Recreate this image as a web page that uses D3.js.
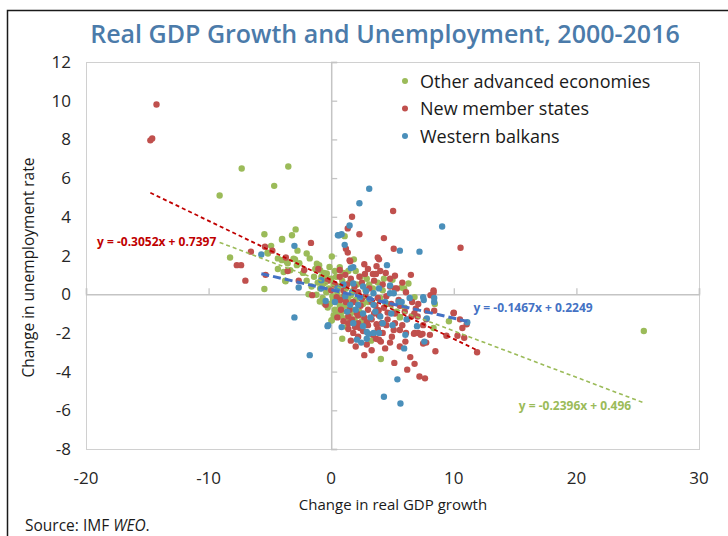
<!DOCTYPE html>
<html>
<head>
<meta charset="utf-8">
<script src="https://cdn.jsdelivr.net/npm/d3@7"></script>
<style>
  html, body { margin: 0; padding: 0; background: #fff; }
  svg { display: block; font-family: "Open Sans", "Noto Sans", sans-serif; }
</style>
</head>
<body>
<svg id="chart" width="728" height="536"></svg>
<script>
// Change in real GDP growth (x) vs change in unemployment rate (y), 2000-2016
const otherAdvanced = [
  [-9.1,5.1],[-7.3,6.5],[-3.5,6.6],[-4.65,5.6],[-5.45,3.1],[-2.9,3.35],[-3.2,3.05],[-4.0,2.85],
  [-4.9,2.5],[-2.75,2.25],[-5.2,2.15],[-8.25,1.9],[-4.35,1.85],[-2.95,1.8],[-1.75,1.85],[0.05,1.95],
  [-4.35,1.3],[-3.55,1.6],[-3.75,0.7],[-5.45,0.27],[25.5,-1.9],[4.05,-3.35],[0.9,-2.3],[3.25,-2.4],
  [9.6,-1.4],[8.35,-1.75],[8.45,-0.5],[6.8,-0.15],[6.3,0.55],[5.0,0.75],[5.75,0.35],[5.95,0.3],
  [4.3,0.8],[2.9,0.8],[1.85,1.8],[1.1,3.0],[-0.98,1.5],[-0.14,1.41],[-1.17,1.58],[-0.9,1.24],
  [-0.36,1.07],[-0.09,0.72],[-0.63,0.55],[-1.2,-0.03],[-0.74,0.45],[-0.36,0.81],[-0.28,-0.69],
  [0.37,-0.96],[0.05,-1.34],[0.18,-0.22],[-0.93,-0.38],[-1.85,0.0],[-4.02,1.76],[-3.61,1.67],
  [-3.07,1.84],[-2.8,1.5],[-3.34,1.24],[-3.88,1.15],[-4.02,2.82],[-5.16,2.1],[-3.72,0.67],
  [0.81,-1.15],[1.27,-1.69],[-0.55,-0.48],[0.15,-0.3],[0.7,-0.2],
  [-0.8,0.9],[-0.5,0.6],[-0.2,0.3],[0.2,0.5],[0.4,0.9],[0.6,0.4],[0.9,0.7],[1.2,0.3],[1.5,0.6],
  [1.8,0.2],[2.1,0.5],[2.4,0.9],[0.1,-0.1],[0.4,-0.4],[0.8,-0.2],[1.1,-0.6],[1.4,-0.3],[1.7,-0.8],
  [2.0,-0.3],[2.3,-0.9],[2.6,-0.5],[0.3,-0.8],[0.6,-1.1],[0.9,-0.9],[1.3,-1.2],[-0.4,0.1],[-0.7,-0.2],
  [0.0,0.8],[0.3,1.2],[0.7,1.4],[1.0,1.1],[1.4,1.2],[2.0,1.2],[-0.6,1.1],[-1.1,0.6],[-1.4,0.9],
  [-1.6,0.4],[-0.9,0.3],[-1.3,1.3],[-2.0,0.7],[-2.3,1.1],[0.5,0.1],[1.0,-0.1],[1.6,-0.05],[2.8,0.2],
  [3.1,0.5],[3.4,0.3],[3.0,-0.4],[3.8,0.6],[4.2,0.2],[0.2,-1.1],[1.9,-1.3],[2.5,-1.4],[-0.1,-0.5],
  [0.7,-0.6],[1.6,-1.0],[4.0,-0.2],[4.6,-0.5],[5.3,-0.9],[5.6,-1.2],[6.0,-0.7],[-2.6,1.6],[-2.0,2.1],
  [5.62,-1.17],[0.02,-1.36]
];
const newMemberStates = [
  [-14.25,9.8],[-14.75,7.95],[-14.6,8.05],[-6.55,2.2],[-5.4,2.45],[-4.8,2.25],[-3.7,1.9],[-3.55,1.2],
  [-1.65,2.65],[-7.7,1.5],[-7.35,1.5],[-7.0,0.7],[-5.35,1.0],[-2.65,0.7],[-2.2,1.25],[-1.05,1.3],
  [-1.55,-0.05],[-0.45,-0.55],[1.7,4.0],[2.3,3.1],[1.35,3.4],[1.2,2.35],[1.35,2.15],[4.3,2.9],
  [3.8,1.9],[3.9,1.8],[3.7,1.45],[2.7,1.55],[1.55,1.7],[1.5,1.75],[0.7,1.25],[2.75,1.05],[3.4,1.05],
  [3.65,1.05],[5.05,4.3],[10.55,2.4],[5.1,2.35],[6.5,1.0],[5.2,0.95],[4.45,1.1],[8.35,0.2],[8.35,0.1],
  [8.1,-0.05],[5.35,0.3],[5.2,0.3],[4.8,0.4],[0.7,0.9],[1.15,1.0],[2.7,-3.15],[5.15,-3.55],[6.2,-3.9],
  [6.45,-3.25],[6.8,-3.6],[7.2,-4.25],[7.65,-4.35],[8.5,-2.95],[7.5,-2.55],[7.75,-2.5],[5.6,-2.7],
  [6.05,-2.45],[6.8,-2.0],[7.1,-2.0],[7.3,-2.1],[9.4,-2.15],[10.3,-2.15],[10.85,-2.25],[11.9,-3.0],
  [10.7,-1.75],[11.05,-1.55],[10.0,-0.95],[10.5,-1.3],[7.75,-1.3],[8.4,-0.85],[8.25,-0.05],[6.9,-0.75],
  [6.55,-1.15],[7.8,-0.85],[7.05,-1.15],[7.45,-2.05],[8.05,-2.1],[6.75,-2.05],[6.1,-2.0],[5.6,-1.85],
  [5.1,-1.85],[4.95,-2.2],[3.65,-2.3],[4.05,-2.45],[2.2,-2.2],[1.4,-1.5],[3.7,-1.55],[2.35,-1.75],
  [1.95,-1.7],[1.4,-1.15],[4.15,-1.5],[3.85,-0.85],[0.45,-0.15],[0.75,-0.3],[1.1,-0.05],
  [1.0,0.2],[1.3,0.5],[1.6,0.8],[1.9,0.4],[2.2,0.1],[2.5,0.6],[2.8,-0.1],[3.1,0.3],[3.5,0.7],
  [3.8,-0.2],[4.2,0.5],[4.5,-0.1],[1.2,-0.4],[1.5,-0.8],[1.8,-0.4],[2.1,-1.0],[2.4,-0.6],[2.7,-1.2],
  [3.0,-0.8],[3.3,-1.3],[3.6,-0.6],[3.9,-1.1],[4.3,-0.7],[4.6,-1.3],[4.9,-0.5],[5.2,-1.0],[5.5,-0.3],
  [1.0,-1.4],[1.4,-1.8],[1.8,-2.0],[2.2,-1.5],[2.6,-1.9],[3.0,-1.6],[3.4,-2.1],[3.8,-1.8],[4.2,-2.0],
  [4.5,-1.6],[4.8,-2.5],[5.2,-1.5],[5.8,-1.6],[6.2,-1.3],[6.0,-0.9],[2.9,-2.6],[3.3,-2.9],[2.0,-2.7],
  [1.6,-2.4],[4.4,-2.8],[0.8,-0.8],[0.5,-1.2],[2.3,0.9],[3.0,1.3],[4.0,1.2],[5.8,0.6],[6.1,0.1],
  [6.6,-0.4],[7.1,-0.5],[5.6,-0.6],[4.8,0.8],[0.3,0.5],[0.0,0.2],[-0.3,0.7],[3.85,-0.83],[4.13,-1.51],
  [2.2,-1.1],[2.9,-1.45],[3.5,-1.0],[1.7,-1.3],[4.6,-0.95],[2.5,-0.25],[3.3,-0.4],[3.9,-2.35],
  [9.98,-0.98],[6.78,-1.0],[7.5,-1.6]
];
const westernBalkans = [
  [-5.7,2.05],[-3.0,2.5],[-2.65,0.35],[0.55,3.05],[-3.0,-1.2],[-1.75,-3.15],[-0.3,-1.65],[-0.45,-0.35],
  [3.1,5.45],[2.3,4.7],[1.5,3.55],[0.65,3.05],[0.85,3.1],[1.1,2.55],[9.05,3.5],[5.6,2.25],[7.2,2.2],
  [4.55,1.5],[1.8,1.4],[1.6,1.35],[4.8,0.45],[-0.25,-1.6],[0.85,-1.7],[2.1,-2.35],[2.45,-2.5],
  [2.9,-2.3],[2.6,-1.65],[3.05,-2.05],[3.45,-2.0],[3.9,-2.0],[1.8,-1.5],[4.3,-5.3],[5.4,-4.4],
  [5.65,-5.65],[5.95,-2.8],[7.6,-2.45],[6.05,-2.1],[7.0,-1.65],[7.8,-1.25],[8.4,-0.4],[7.55,-0.3],
  [8.4,-0.2],[2.2,-0.55],[2.35,-0.15],[3.15,-0.25],[2.85,0.15],[3.45,0.05],[1.55,-0.55],[1.7,0.1],
  [1.15,-0.1],[4.8,0.05],[5.1,0.05],[5.5,-0.4],[5.75,-0.4],[3.45,-0.55],[2.6,0.4],[1.8,0.55],
  [6.15,-1.3],[7.5,-0.15],[4.0,-1.15],[2.9,-1.95],[-0.82,0.29],[-0.81,0.72],[11.1,-1.45],
  [0.5,0.3],[1.0,0.5],[2.0,-0.8],[2.6,-1.0],[3.2,-1.2],[3.6,-0.9],[4.4,-0.4],[4.9,-1.0],[1.3,-0.9],
  [0.3,-0.4],[3.9,0.3],[4.2,-1.5],[6.4,-0.2],[5.0,-1.6]
];

// Linear fits: [slope, intercept] per series
const trendOther = [-0.2396, 0.496];
const trendNew = [-0.3052, 0.7397];
const trendBalkans = [-0.1467, 0.2249];

const seriesNames = ["Other advanced economies", "New member states", "Western balkans"];
const xTicks = [-20, -10, 0, 10, 20, 30];
const yTicks = [-8, -6, -4, -2, 0, 2, 4, 6, 8, 10, 12];

const svg = d3.select("#chart");
const W = 728, H = 536;
const plot = { left: 86, right: 699, top: 62, bottom: 449 };

const x = d3.scaleLinear().domain([-20, 30]).range([plot.left, plot.right]);
const y = d3.scaleLinear().domain([-8, 12]).range([plot.bottom, plot.top]);

const colors = { other: "#9bbb59", nms: "#c0504d", wb: "#4a8fba" };
const trendColors = { other: "#9bbb59", nms: "#c00000", wb: "#4472c4" };

// outer frame (left and top edges)
svg.append("path")
  .attr("d", `M7.5,${H} V10.5 H${W}`)
  .attr("fill", "none").attr("stroke", "#1a1a1a").attr("stroke-width", 1.5);

// title
svg.append("text")
  .attr("x", 385).attr("y", 43)
  .attr("text-anchor", "middle")
  .attr("font-size", 25).attr("font-weight", 600)
  .attr("fill", "#4b7baa")
  .text("Real GDP Growth and Unemployment, 2000-2016");

// plot area border
svg.append("rect")
  .attr("x", plot.left + 0.5).attr("y", plot.top + 0.5)
  .attr("width", plot.right - plot.left).attr("height", plot.bottom - plot.top)
  .attr("fill", "none").attr("stroke", "#d0d0d0").attr("stroke-width", 1);

// axes crossing at zero
const axisColor = "#c4c4c4";
const yAxis = d3.axisRight(y).tickValues(yTicks).tickSize(6).tickFormat("");
const gy = svg.append("g").attr("transform", `translate(${x(0)},0)`).call(yAxis);
const xAxis = d3.axisTop(x).tickValues(xTicks.filter(v => v !== 0)).tickSize(6).tickFormat("");
const gx = svg.append("g").attr("transform", `translate(0,${y(0)})`).call(xAxis);
[gx, gy].forEach(g => {
  g.select(".domain").attr("stroke", axisColor).attr("stroke-width", 1.5);
  g.selectAll(".tick line").attr("stroke", axisColor).attr("stroke-width", 1.3);
});

// tick labels along the plot edges
svg.append("g").selectAll("text").data(yTicks).join("text")
  .attr("x", 71).attr("y", d => y(d) + 6)
  .attr("text-anchor", "end")
  .attr("font-size", 17).attr("fill", "#262626")
  .text(d => d);
svg.append("g").selectAll("text").data(xTicks).join("text")
  .attr("x", d => x(d)).attr("y", 484)
  .attr("text-anchor", "middle")
  .attr("font-size", 17).attr("fill", "#262626")
  .text(d => d);

// axis titles
svg.append("text")
  .attr("transform", `translate(34,${(plot.top + plot.bottom) / 2 + 12}) rotate(-90)`)
  .attr("text-anchor", "middle")
  .attr("font-size", 15.5).attr("fill", "#1a1a1a")
  .text("Change in unemployment rate");
svg.append("text")
  .attr("x", 393).attr("y", 510)
  .attr("text-anchor", "middle")
  .attr("font-size", 15).attr("fill", "#1a1a1a")
  .text("Change in real GDP growth");

// source note
const src = svg.append("text")
  .attr("x", 25).attr("y", 531)
  .attr("font-size", 15.5).attr("fill", "#1a1a1a");
src.append("tspan").text("Source: IMF ");
src.append("tspan").attr("font-style", "italic").text("WEO");
src.append("tspan").text(".");

// scatter points
const dots = svg.append("g");
function drawSeries(data, color) {
  dots.append("g").selectAll("circle").data(data).join("circle")
    .attr("cx", d => x(d[0])).attr("cy", d => y(d[1]))
    .attr("r", 3.2).attr("fill", color);
}
drawSeries(otherAdvanced, colors.other);
drawSeries(newMemberStates, colors.nms);
drawSeries(westernBalkans, colors.wb);

// trend lines across each series' x range
function trend(data, coef, color, width, dash) {
  const [lo, hi] = d3.extent(data, d => d[0]);
  const f = v => coef[0] * v + coef[1];
  svg.append("line")
    .attr("x1", x(lo)).attr("y1", y(f(lo)))
    .attr("x2", x(hi)).attr("y2", y(f(hi)))
    .attr("stroke", color).attr("stroke-width", width)
    .attr("stroke-dasharray", dash);
}
trend(otherAdvanced, trendOther, trendColors.other, 1.6, "4,3");
trend(newMemberStates, trendNew, trendColors.nms, 1.8, "4,3");
trend(westernBalkans, trendBalkans, trendColors.wb, 3, "8,4");

// trend equations
function eqText(c) {
  const b = +c[1].toFixed(4);
  return `y = ${c[0].toFixed(4)}x ${b < 0 ? "-" : "+"} ${Math.abs(b)}`;
}
const eqLabels = [
  { coef: trendNew, color: trendColors.nms, at: [-19.1, 2.74] },
  { coef: trendBalkans, color: trendColors.wb, at: [11.6, -0.67] },
  { coef: trendOther, color: trendColors.other, at: [15.3, -5.73] }
];
svg.append("g").selectAll("text").data(eqLabels).join("text")
  .attr("x", d => x(d.at[0])).attr("y", d => y(d.at[1]) + 4.5)
  .attr("font-size", 12).attr("font-weight", 700)
  .attr("fill", d => d.color)
  .text(d => eqText(d.coef));

// legend
const legend = svg.append("g").selectAll("g")
  .data(seriesNames.map((n, i) => ({ n, c: [colors.other, colors.nms, colors.wb][i] })))
  .join("g")
  .attr("transform", (d, i) => `translate(405,${81 + i * 27.5})`);
legend.append("circle").attr("r", 3).attr("fill", d => d.c);
legend.append("text")
  .attr("x", 15).attr("y", 6.5)
  .attr("font-size", 18).attr("fill", "#1a1a1a")
  .text(d => d.n);
</script>
</body>
</html>
